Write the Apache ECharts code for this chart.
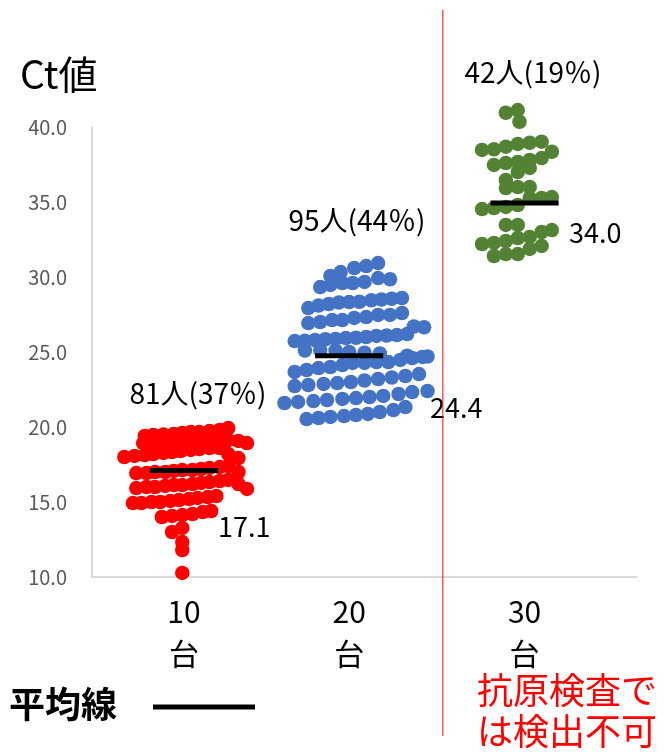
<!DOCTYPE html>
<html lang="ja">
<head>
<meta charset="UTF-8">
<title>Ct値</title>
<script src="https://cdn.jsdelivr.net/npm/echarts@6/dist/echarts.min.js"></script>
</head>
<body style="margin:0;">
<div id="main" style="width:664px;height:756px;"></div>
<script>
// 年代 (x軸ラベル)
var categories = ['10', '20', '30'];
var groupX = [1, 1.97, 3];
var countLabels = ['81人(37％)', '95人(44％)', '42人(19％)'];
// 平均線の位置と表示値
var meanLine = [17.1, 24.75, 34.93];
var meanText = ['17.1', '24.4', '34.0'];
var cutoffX = 2.52;
var yTicks = [10, 40, 5];

// 各点 [xのずれ, Ct値]
var ct10 = [
    [-0.23, 19.4], [-0.18, 19.47], [-0.12, 19.5], [-0.06, 19.53], [-0.01, 19.6], [0.04, 19.67], [0.09, 19.67], [0.15, 19.73], [0.21, 19.8], [0.26, 19.93],
    [-0.24, 18.93], [-0.19, 18.93], [-0.13, 19.0], [-0.08, 19.0], [-0.02, 19.0], [0.04, 19.07], [0.09, 19.07], [0.15, 19.07], [0.21, 19.13], [0.26, 19.13], [0.32, 19.07], [0.37, 18.93],
    [-0.35, 18.0], [-0.29, 18.07], [-0.23, 18.13], [-0.18, 18.2], [-0.12, 18.27], [-0.07, 18.33], [-0.02, 18.4], [0.04, 18.47], [0.09, 18.53], [0.15, 18.6], [0.21, 18.6], [0.26, 18.2], [0.32, 17.93],
    [-0.28, 16.93], [-0.22, 16.93], [-0.17, 17.0], [-0.11, 17.0], [-0.06, 17.07], [-0.01, 17.13], [0.05, 17.13], [0.10, 17.2], [0.15, 17.27], [0.21, 17.33], [0.26, 17.4], [0.32, 17.0],
    [-0.28, 15.93], [-0.22, 16.0], [-0.17, 16.0], [-0.11, 16.07], [-0.06, 16.13], [-0.01, 16.13], [0.05, 16.2], [0.10, 16.27], [0.15, 16.33], [0.21, 16.4], [0.26, 16.47], [0.32, 16.2], [0.37, 15.87],
    [-0.30, 14.93], [-0.25, 14.93], [-0.19, 15.0], [-0.14, 15.0], [-0.08, 15.07], [-0.03, 15.13], [0.03, 15.2], [0.08, 15.27], [0.14, 15.33], [0.19, 15.4],
    [-0.13, 14.0], [-0.07, 14.07], [-0.01, 14.13], [0.05, 14.2], [0.11, 14.33], [0.16, 14.4],
    [-0.07, 13.0], [-0.01, 13.27], [-0.01, 12.33], [-0.01, 11.8], [-0.01, 10.27]
];
var ct20 = [
    [-0.11, 30.07], [-0.05, 30.33], [0.03, 30.6], [0.10, 30.73], [0.17, 30.93],
    [-0.17, 29.33], [-0.11, 29.47], [-0.04, 29.6], [0.02, 29.6], [0.09, 29.67], [0.17, 29.93], [0.24, 29.85],
    [-0.24, 27.93], [-0.18, 28.1], [-0.12, 28.2], [-0.06, 28.3], [0.00, 28.33], [0.06, 28.35], [0.13, 28.45], [0.19, 28.5], [0.25, 28.55], [0.31, 28.6],
    [-0.24, 26.93], [-0.17, 27.0], [-0.10, 27.13], [-0.04, 27.13], [0.03, 27.27], [0.10, 27.33], [0.17, 27.47], [0.24, 27.47], [0.31, 27.6], [0.38, 26.7], [0.44, 26.65],
    [-0.32, 25.73], [-0.26, 25.75], [-0.20, 25.8], [-0.14, 25.85], [-0.08, 25.87], [-0.02, 25.93], [0.04, 25.95], [0.10, 26.0], [0.16, 26.07], [0.22, 26.1], [0.28, 26.13], [0.34, 26.2],
    [-0.26, 25.1], [-0.17, 25.13], [-0.08, 25.1], [0.00, 25.0], [0.09, 24.95], [0.18, 24.9], [0.34, 24.75], [0.46, 24.7],
    [-0.32, 23.67], [-0.25, 23.8], [-0.18, 23.93], [-0.11, 24.0], [-0.04, 24.13], [0.02, 24.27], [0.09, 24.27], [0.16, 24.33], [0.23, 24.33], [0.30, 24.47], [0.37, 24.6], [0.43, 24.67],
    [-0.32, 22.73], [-0.24, 22.8], [-0.15, 22.87], [-0.07, 22.93], [0.01, 23.0], [0.09, 23.1], [0.17, 23.2], [0.25, 23.3], [0.33, 23.4], [0.41, 23.53],
    [-0.38, 21.6], [-0.30, 21.67], [-0.21, 21.73], [-0.13, 21.8], [-0.04, 21.87], [0.04, 21.93], [0.12, 22.0], [0.20, 22.07], [0.29, 22.2], [0.37, 22.33], [0.46, 22.4],
    [-0.25, 20.53], [-0.18, 20.6], [-0.11, 20.67], [-0.03, 20.73], [0.04, 20.8], [0.11, 20.87], [0.18, 21.0], [0.26, 21.13], [0.33, 21.33]
];
var ct30 = [
    [-0.11, 40.95], [-0.04, 41.13], [-0.03, 40.35],
    [-0.25, 38.47], [-0.18, 38.51], [-0.11, 38.69], [-0.04, 38.87], [0.03, 38.95], [0.10, 39.02], [0.16, 38.35],
    [-0.18, 37.47], [-0.11, 37.6], [-0.04, 37.67], [0.03, 37.8], [0.10, 37.93], [-0.04, 37.0], [0.03, 37.27],
    [-0.11, 36.47], [-0.11, 35.93], [-0.04, 36.0], [0.03, 36.0],
    [-0.25, 34.53], [-0.18, 34.6], [-0.11, 34.67], [-0.04, 34.8], [0.03, 35.27], [0.10, 35.27], [0.16, 35.33],
    [-0.11, 33.47], [-0.04, 33.47],
    [-0.25, 32.2], [-0.18, 32.27], [-0.11, 32.4], [-0.04, 32.6], [0.03, 32.67], [0.10, 33.0], [0.16, 33.13],
    [-0.18, 31.4], [-0.11, 31.53], [-0.04, 31.53], [0.03, 31.87], [0.10, 32.07]
];

var groups = [ct10, ct20, ct30];
var colors = ['#FF0000', '#4472C4', '#548235'];
var font = '"Noto Sans CJK JP", "Noto Sans", sans-serif';

var chart = echarts.init(document.getElementById('main'));

var series = [];
groups.forEach(function (pts, i) {
    series.push({
        type: 'scatter',
        symbolSize: 14.5,
        clip: false,
        itemStyle: { color: colors[i], opacity: 1 },
        data: pts.map(function (p) { return [groupX[i] + p[0], p[1]]; }),
        z: 2
    });
});
// 平均線
meanLine.forEach(function (m, i) {
    series.push({
        type: 'line',
        symbol: 'none',
        lineStyle: { color: '#000', width: 5 },
        data: [[groupX[i] - 0.2, m], [groupX[i] + 0.2, m]],
        z: 5
    });
});

var option = {
    animation: false,
    backgroundColor: '#fff',
    grid: { left: 92, right: 27, top: 127, bottom: 179 },
    xAxis: {
        type: 'value',
        min: 0.46,
        max: 3.66,
        axisLine: { show: true, lineStyle: { color: '#d0d0d0', width: 1.5 } },
        axisTick: { show: false },
        splitLine: { show: false },
        axisLabel: {
            customValues: groupX,
            margin: 14,
            color: '#000',
            fontSize: 30,
            lineHeight: 42,
            fontFamily: font,
            formatter: function (v) {
                var i = 0;
                groupX.forEach(function (g, k) { if (Math.abs(g - v) < Math.abs(groupX[i] - v)) i = k; });
                return categories[i] + '\n台';
            }
        }
    },
    yAxis: {
        type: 'value',
        min: yTicks[0],
        max: yTicks[1],
        interval: yTicks[2],
        axisLine: { show: true, lineStyle: { color: '#d0d0d0', width: 1.5 } },
        axisTick: { show: false },
        splitLine: { show: false },
        axisLabel: {
            margin: 25,
            color: '#595959',
            fontSize: 20,
            fontFamily: font,
            formatter: function (v) { return v.toFixed(1); }
        }
    },
    series: series
};

chart.setOption(option);

// 注記類
var lineX = chart.convertToPixel({ gridIndex: 0 }, [cutoffX, 10])[0];
var countPos = [[198, 393], [357, 220], [533, 72]];
var meanPos = [[218, 527], [430, 408], [569, 233]];
var graphics = [
    { type: 'line', shape: { x1: lineX, y1: 10, x2: lineX, y2: 736 }, style: { stroke: '#FF0000', lineWidth: 1 }, z: 10 },
    { type: 'text', left: 20, top: 55, style: { text: 'Ct値', font: '39px ' + font, fill: '#000' } },
    { type: 'text', left: 9, top: 686, style: { text: '平均線', font: 'bold 36px ' + font, fill: '#000' } },
    { type: 'line', shape: { x1: 153, y1: 707, x2: 255, y2: 707 }, style: { stroke: '#000', lineWidth: 5 } },
    { type: 'text', left: 477, top: 670, style: { text: '抗原検査で\nは検出不可', font: '36px ' + font, lineHeight: 41, fill: '#FF0000' } }
];
countLabels.forEach(function (t, i) {
    graphics.push({ type: 'text', x: countPos[i][0], y: countPos[i][1], style: { text: t, font: '28px ' + font, fill: '#000', align: 'center', verticalAlign: 'middle' } });
});
meanText.forEach(function (t, i) {
    graphics.push({ type: 'text', x: meanPos[i][0], y: meanPos[i][1], style: { text: t, font: '27px ' + font, fill: '#000', align: 'left', verticalAlign: 'middle' } });
});
chart.setOption({ graphic: graphics });
</script>
</body>
</html>
